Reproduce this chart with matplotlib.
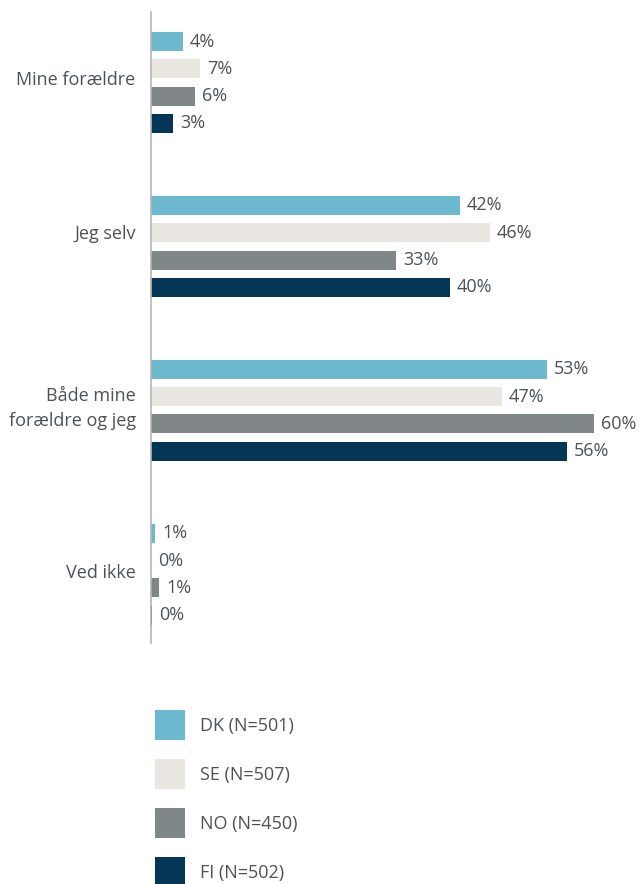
import matplotlib
matplotlib.use("Agg")
import matplotlib.pyplot as plt
import matplotlib.transforms as mtransforms
import numpy as np

categories = ["Mine forældre", "Jeg selv", "Både mine\nforældre og jeg", "Ved ikke"]
series_names = ["DK (N=501)", "SE (N=507)", "NO (N=450)", "FI (N=502)"]
dk = [4.3, 41.6, 53.3, 0.6]
se = [6.6, 45.6, 47.2, 0.0]
no = [5.9, 33.0, 59.6, 1.1]
fi = [3.0, 40.2, 56.0, 0.15]
series_values = [dk, se, no, fi]
colors = ["#6CB8CE", "#EAE7E3", "#7F8789", "#023654"]
text_color = "#4D5257"

plt.rcParams['font.family'] = ['Open Sans', 'DejaVu Sans']

W, H = 644, 884
fig = plt.figure(figsize=(W / 100, H / 100), dpi=100)
ax_left = 151 / W
ax_w = 66 * 7.43 / W
ax_bottom = (H - 643) / H
ax_h = (643 - 12) / H
ax = fig.add_axes([ax_left, ax_bottom, ax_w, ax_h])

fs = 13
pitch = 1 / 6
bh = 0.116
y = np.arange(len(categories))
handles = []
for i, (vals, name, c) in enumerate(zip(series_values, series_names, colors)):
    off = (i - 1.5) * pitch
    bars = ax.barh(y + off, vals, height=bh, color=c, label=name)
    handles.append(bars)
    ax.bar_label(bars, labels=[f"{round(v)}%" for v in vals], padding=5,
                 fontsize=fs, color=text_color)

ax.set_xlim(0, 66)
ax.set_ylim(3.42, -0.43)
ax.set_yticks(y)
ax.set_yticklabels(categories, fontsize=fs, color=text_color, linespacing=1.5)
ax.tick_params(axis='y', length=0, pad=11)
ax.set_xticks([])
for s in ["top", "right", "bottom"]:
    ax.spines[s].set_visible(False)
ax.spines["left"].set_color("#B5B5B5")
ax.spines["left"].set_linewidth(1.2)

# small vertical nudges of category labels (in points) to mirror the reference
for lbl, dy in zip(ax.get_yticklabels(), [3.5, 10, 5, 2.5]):
    lbl.set_transform(lbl.get_transform() +
                      mtransforms.ScaledTranslation(0, dy / 72, fig.dpi_scale_trans))

fspx = fs * 100 / 72
sq = 30
hh = (sq / fspx - 0.245) / 0.65
fig.legend(handles=handles, labels=series_names, loc="upper left",
           bbox_to_anchor=(155 / W, 1 - 710 / H), frameon=False,
           fontsize=fs, labelcolor=text_color, borderpad=0, borderaxespad=0,
           handlelength=sq / fspx, handleheight=hh,
           handletextpad=15 / fspx, labelspacing=(49 - sq) / fspx)

fig.savefig("out.png", dpi=100)
